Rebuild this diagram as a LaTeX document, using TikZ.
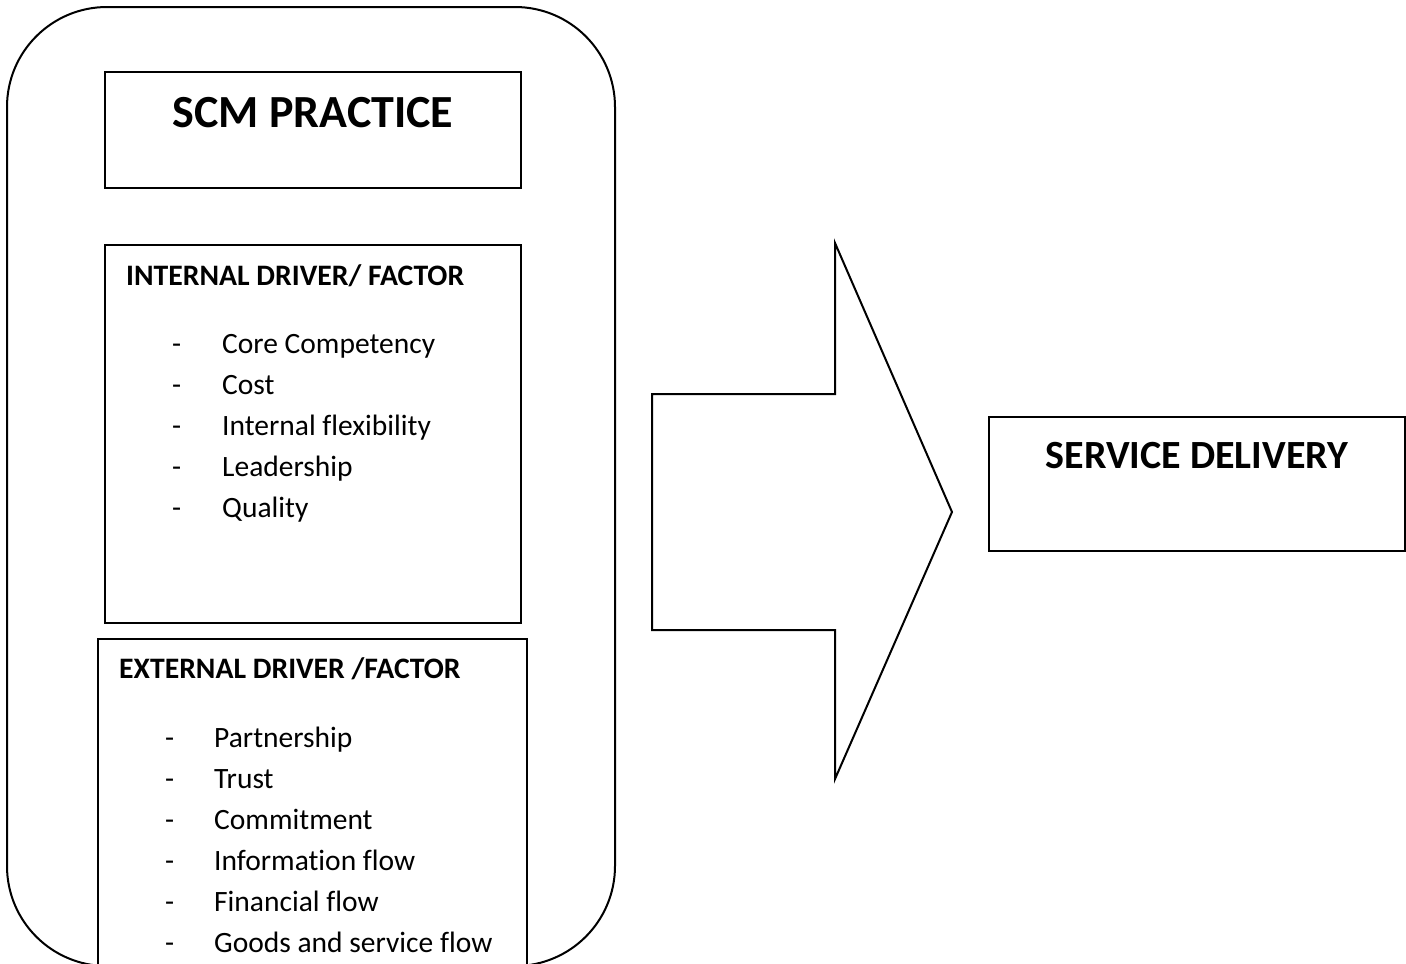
\documentclass[tikz,border=0pt]{standalone}
\usepackage{fontspec}
\setmainfont{Carlito}[Ligatures=NoCommon]
\begin{document}
\begin{tikzpicture}[x=1pt,y=-1pt,
  frame/.style={draw=black,line width=2pt,fill=white},
  head/.style={font=\fontsize{46}{50}\selectfont\bfseries,anchor=base},
  sub/.style={font=\fontsize{29.7}{33}\selectfont\bfseries,anchor=base west,inner sep=0pt},
  item/.style={font=\fontsize{29.5}{33}\selectfont,anchor=base west,inner sep=0pt},
  dashmark/.style={font=\fontsize{29.5}{33}\selectfont,anchor=base west,inner sep=0pt}]
\useasboundingbox (0,0) rectangle (1406,964);
\clip (0,0) rectangle (1406,964);

% outer rounded frame around the practice blocks
\draw[frame,rounded corners=100pt] (7,7) rectangle (615,966);

% SCM practice title box
\draw[frame] (105,72) rectangle (521,188);
\node[head] (scm) at (313,127) {SCM PRACTICE};

% internal drivers
\draw[frame] (105,245) rectangle (521,623);
\node[sub] (inthead) at (126,285) {INTERNAL DRIVER/ FACTOR};
\foreach \t [count=\i] in {Core Competency,Cost,Internal flexibility,Leadership,Quality}{
  \node[dashmark] (intd\i) at (172,343+41.2*\i-41.2+10) {-};
  \node[item] (int\i) at (222,343+41.2*\i-41.2+10) {\t};
}

% external drivers
\draw[frame] (98,639) rectangle (527,990);
\node[sub] (exthead) at (119,678) {EXTERNAL DRIVER /FACTOR};
\foreach \t [count=\i] in {Partnership,Trust,Commitment,Information flow,Financial flow,Goods and service flow}{
  \node[dashmark] (extd\i) at (165,737+41*\i-41+10) {-};
  \node[item] (ext\i) at (214,737+41*\i-41+10) {\t};
}

% block arrow
\draw[line width=2pt,line join=miter,fill=white]
  (652,394) -- (835,394) -- (835,243) -- (952,512) -- (835,779)
  -- (835,630) -- (652,630) -- cycle;

% service delivery box
\draw[frame] (989,417) rectangle (1405,551);
\node[head,font=\fontsize{40}{44}\selectfont\bfseries] (sd) at (1197,468) {SERVICE DELIVERY};
\end{tikzpicture}
\end{document}
